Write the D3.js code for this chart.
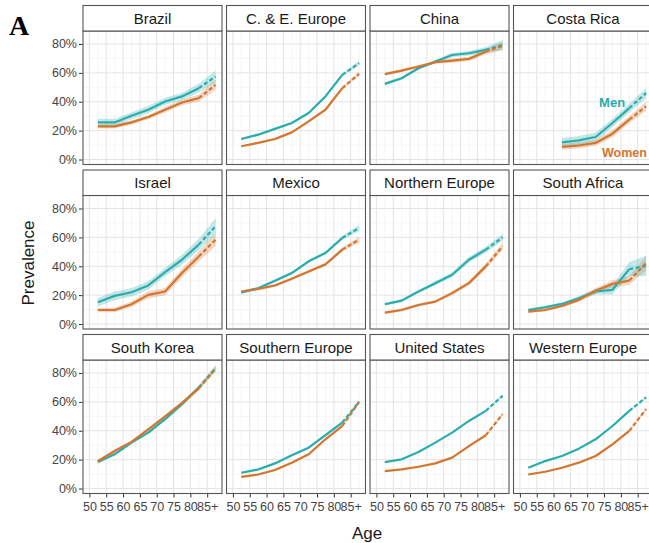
<!DOCTYPE html>
<html><head><meta charset="utf-8">
<script src="https://cdn.jsdelivr.net/npm/d3@7"></script>
<style>body{margin:0;background:#fff}svg{display:block}</style>
</head><body>
<script>
const countries = ["Brazil","C. & E. Europe","China","Costa Rica","Israel","Mexico","Northern Europe","South Africa","South Korea","Southern Europe","United States","Western Europe"];
const ages = [52.5,57.5,62.5,67.5,72.5,77.5,82.5,87.5];
const xTicks = [50,55,60,65,70,75,80,85];
const xTickLabels = ["50","55","60","65","70","75","80","85+"];
const yTicks = [0,20,40,60,80];
const yTickLabels = ["0%","20%","40%","60%","80%"];

const menValues = [
  [25.7,25.7,30.3,34.5,40.2,43.7,49.4,57.5],
  [14.2,17.2,21.2,25.3,32.2,43.7,58.6,66.7],
  [52.4,56.3,63.2,67.8,72.4,73.6,75.9,79.3],
  [null,null,11.9,13.3,15.6,25.3,35.6,46.0],
  [15.1,19.5,22.0,26.7,36.0,44.5,55.0,67.7],
  [21.8,24.8,29.9,35.3,43.4,49.2,59.6,66.5],
  [13.7,16.2,22.5,28.3,34.1,44.5,51.5,60.0],
  [9.7,11.6,13.9,17.9,22.5,23.7,38.0,40.3],
  [18.3,23.7,31.8,38.7,48.0,58.4,70.0,83.2],
  [10.9,13.2,17.4,23.0,28.3,36.9,45.7,60.0],
  [18.3,20.2,25.3,31.8,38.7,46.8,53.8,64.2],
  [14.4,19.0,22.5,27.6,34.1,43.3,53.8,63.1]
];
const womenValues = [
  [23.0,23.0,25.7,29.4,34.5,39.5,42.5,51.7],
  [9.2,11.5,14.2,18.8,26.4,34.5,49.4,59.3],
  [59.1,61.6,64.4,67.4,68.5,69.7,74.7,78.6],
  [null,null,8.7,9.7,11.5,17.9,27.6,36.8],
  [9.7,9.7,13.7,20.2,22.5,35.3,46.8,58.4],
  [22.5,24.3,26.7,31.4,36.4,41.3,51.5,58.4],
  [7.9,9.7,13.2,15.5,21.4,28.3,39.9,53.8],
  [8.6,9.7,12.5,16.7,23.0,27.8,30.1,42.2],
  [18.9,26.0,32.3,41.0,49.9,59.1,69.3,83.2],
  [8.1,9.7,12.8,17.9,23.7,34.1,43.3,60.0],
  [12.0,13.2,15.1,17.4,21.4,29.4,36.9,51.5],
  [9.7,11.6,14.4,17.9,22.5,30.6,39.9,55.0]
];
// half-widths of the confidence bands (percentage points)
const menCI = [
  [2.5,2.5,2.5,2.5,2.5,2.5,3,4],
  [0.8,0.8,0.8,0.8,0.8,1,1,1.5],
  [1,1,1,1,1.5,1.5,2,3.5],
  [null,null,3,3,3,3,3,3.5],
  [3,3,3,3,3,3.5,4,5.5],
  [1,1,1,1,1,1,1.5,2],
  [1,1,1,1.5,1.5,2,2,2.5],
  [1,1,1,1.5,2,3,5,7],
  [1,1,1,1,1,1.5,1.5,2],
  [0.8,0.8,0.8,0.8,0.8,1,1,1.5],
  [0.5,0.5,0.5,0.5,0.5,0.5,0.7,1],
  [0.5,0.5,0.5,0.5,0.5,0.5,0.7,1]
];
const womenCI = [
  [1.5,1.5,1.5,1.5,2,2,2.5,3.5],
  [0.7,0.7,0.7,0.7,0.8,1,1,1.5],
  [1,1,1,1,1.5,1.5,2,3],
  [null,null,2,2,2,2.5,2.5,3],
  [1.5,1.5,2,2.5,2.5,3,3.5,4.5],
  [1,1,1,1,1,1,1.5,2],
  [1,1,1,1,1.5,1.5,2,2.5],
  [1,1,1,1.5,2,2.5,3,5],
  [1,1,1,1,1,1.5,1.5,2],
  [0.7,0.7,0.7,0.7,0.8,1,1,1.5],
  [0.5,0.5,0.5,0.5,0.5,0.5,0.7,1],
  [0.5,0.5,0.5,0.5,0.5,0.5,0.7,1]
];
const seriesNames = ["Men","Women"];
const seriesColors = ["#2badae","#d4762f"];

const W = 649, H = 543;
const colX = [83, 226.5, 370, 513.5];
const rowY = [5.5, 170, 334.5];
const panelW = 139, stripH = 25.5, panelH = 133.5;
const FONT = "'Liberation Sans', Arial, Helvetica, sans-serif";

const svg = d3.select("body").append("svg").attr("width", W).attr("height", H)
  .style("font-family", FONT);

const xMinor = [52.5,57.5,62.5,67.5,72.5,77.5,82.5,87.5];
const yMinor = [10,30,50,70];

countries.forEach((name, i) => {
  const col = i % 4, row = Math.floor(i / 4);
  const x0 = colX[col], sy = rowY[row], py = sy + stripH;
  const x = d3.scaleLinear().domain([48.1, 89.4]).range([x0, x0 + panelW]);
  const y = d3.scaleLinear().domain([-3.45, 89]).range([py + panelH, py]);
  const g = svg.append("g");

  g.append("rect").attr("x", x0).attr("y", py).attr("width", panelW).attr("height", panelH).attr("fill", "#fff");
  const grid = g.append("g");
  xMinor.forEach(v => grid.append("line").attr("x1", x(v)).attr("x2", x(v)).attr("y1", py).attr("y2", py + panelH).attr("stroke", "#f2f2f2").attr("stroke-width", 0.8));
  yMinor.forEach(v => grid.append("line").attr("x1", x0).attr("x2", x0 + panelW).attr("y1", y(v)).attr("y2", y(v)).attr("stroke", "#f2f2f2").attr("stroke-width", 0.8));
  xTicks.forEach(v => grid.append("line").attr("x1", x(v)).attr("x2", x(v)).attr("y1", py).attr("y2", py + panelH).attr("stroke", "#e4e4e4").attr("stroke-width", 1));
  yTicks.forEach(v => grid.append("line").attr("x1", x0).attr("x2", x0 + panelW).attr("y1", y(v)).attr("y2", y(v)).attr("stroke", "#e4e4e4").attr("stroke-width", 1));

  const clipId = "clip" + i;
  svg.append("clipPath").attr("id", clipId).append("rect").attr("x", x0).attr("y", py).attr("width", panelW).attr("height", panelH);
  const plot = g.append("g").attr("clip-path", `url(#${clipId})`);

  const sets = [
    {vals: menValues[i], ci: menCI[i], color: seriesColors[0]},
    {vals: womenValues[i], ci: womenCI[i], color: seriesColors[1]}
  ];
  sets.slice().reverse().forEach(s => {
    const pts = ages.map((a, k) => ({a, v: s.vals[k], c: s.ci[k]})).filter(d => d.v != null);
    const area = d3.area().x(d => x(d.a)).y0(d => y(d.v - d.c)).y1(d => y(d.v + d.c));
    plot.append("path").attr("d", area(pts)).attr("fill", s.color).attr("fill-opacity", 0.28);
  });
  sets.forEach(s => {
    const pts = ages.map((a, k) => ({a, v: s.vals[k]})).filter(d => d.v != null);
    const line = d3.line().x(d => x(d.a)).y(d => y(d.v));
    const solid = pts.filter(d => d.a <= 82.5);
    const dashed = pts.filter(d => d.a >= 82.5);
    plot.append("path").attr("d", line(solid)).attr("fill", "none").attr("stroke", s.color).attr("stroke-width", 2.2).attr("stroke-linejoin", "round");
    plot.append("path").attr("d", line(dashed)).attr("fill", "none").attr("stroke", s.color).attr("stroke-width", 2.2).attr("stroke-dasharray", "4,2.5");
  });

  g.append("rect").attr("x", x0).attr("y", py).attr("width", panelW).attr("height", panelH).attr("fill", "none").attr("stroke", "#555").attr("stroke-width", 1.1);
  g.append("rect").attr("x", x0).attr("y", sy).attr("width", panelW).attr("height", stripH).attr("fill", "#fff").attr("stroke", "#555").attr("stroke-width", 1.1);
  g.append("text").attr("x", x0 + panelW / 2).attr("y", sy + stripH / 2 + 5.3).attr("text-anchor", "middle")
    .attr("font-size", 15).attr("fill", "#1a1a1a").text(name);

  if (col === 0) {
    const ya = d3.axisLeft(y).tickValues(yTicks).tickSize(3.5).tickPadding(2).tickFormat((d, k) => yTickLabels[k]);
    const ag = svg.append("g").attr("transform", `translate(${x0 - 0.5},0)`).call(ya);
    ag.select(".domain").remove();
    ag.selectAll(".tick line").attr("stroke", "#333");
    ag.selectAll("text").attr("font-size", 12.5).attr("fill", "#444").style("font-family", FONT);
  }
  if (row === 2) {
    const xa = d3.axisBottom(x).tickValues(xTicks).tickSize(3.5).tickPadding(2).tickFormat((d, k) => xTickLabels[k]);
    const ag = svg.append("g").attr("transform", `translate(0,${py + panelH + 0.5})`).call(xa);
    ag.select(".domain").remove();
    ag.selectAll(".tick line").attr("stroke", "#333");
    ag.selectAll("text").attr("font-size", 12.5).attr("fill", "#444").style("font-family", FONT).attr("dy", "0.9em");
  }

  if (name === "Costa Rica") {
    g.append("text").attr("x", x(77.4)).attr("y", y(36.4)).attr("text-anchor", "middle")
      .attr("font-size", 13).attr("font-weight", "bold").attr("fill", seriesColors[0]).text(seriesNames[0]);
    g.append("text").attr("x", x(74.4)).attr("y", y(1.8)).attr("text-anchor", "start")
      .attr("font-size", 12.5).attr("font-weight", "bold").attr("fill", seriesColors[1]).text(seriesNames[1]);
  }
});

svg.append("text").attr("transform", "translate(34,263) rotate(-90)").attr("text-anchor", "middle")
  .attr("font-size", 17).attr("fill", "#1a1a1a").text("Prevalence");
svg.append("text").attr("x", 367).attr("y", 539).attr("text-anchor", "middle")
  .attr("font-size", 17).attr("fill", "#1a1a1a").text("Age");
svg.append("text").attr("x", 9).attr("y", 35).attr("font-size", 28).attr("font-weight", "bold")
  .style("font-family", "'Liberation Serif', 'Times New Roman', serif").attr("fill", "#000").text("A");
</script>
</body></html>
